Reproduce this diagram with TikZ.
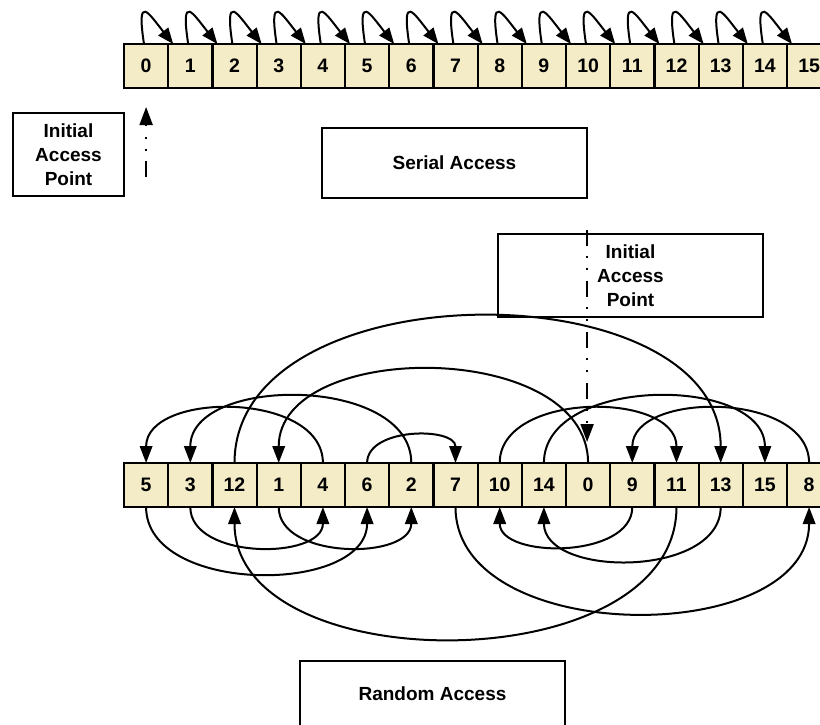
\documentclass[tikz,border=0pt]{standalone}
\usepackage{fontspec}
\setmainfont{Liberation Sans}
\usetikzlibrary{arrows.meta}
\definecolor{cellfill}{RGB}{244,235,199}
\begin{document}
\begin{tikzpicture}[x=1pt,y=-1pt,
  cell/.style={draw, line width=2.2pt, fill=cellfill, minimum width=44.2pt,
    minimum height=44pt, inner sep=0pt, outer sep=0pt,
    font=\fontsize{19.5}{22}\selectfont\bfseries},
  labelbox/.style={draw, line width=2.1pt, inner sep=0pt, outer sep=0pt,
    align=center, font=\fontsize{19}{24}\selectfont\bfseries},
  link/.style={line width=2pt, -{Triangle[length=17pt,width=12.5pt]}},
  hop/.style={line width=2pt, -{Triangle[length=16pt,width=12.5pt]}},
  pointer/.style={line width=2pt,
    dash pattern=on 16pt off 10pt on 2pt off 10pt on 2pt off 11pt,
    -{Triangle[length=18pt,width=13pt]}},
]
\useasboundingbox (0,0) rectangle (820,725);

% serial memory row
\foreach \i in {0,...,15}
  \node[cell] (s\i) at (146.1+44.2*\i, 66) {\i};

% random memory row, nodes named by stored value
\foreach \v [count=\j from 0] in {5,3,12,1,4,6,2,7,10,14,0,9,11,13,15,8}
  \node[cell] (r\v) at (146.1+44.2*\j, 485) {\v};

% serial hops i -> i+1
\foreach \i [evaluate=\i as \n using int(\i+1)] in {0,...,14}
  \draw[hop] ([xshift=20pt]s\i.north west) .. controls +(-8,-52) and +(-24,-30)
    .. ([xshift=5pt]s\n.north west);

% random hops above the row
\draw[link] (r0.north)  .. controls +(0,-124) and +(0,-124) .. (r1.north);
\draw[link] (r2.north)  .. controls +(0,-88)  and +(0,-88)  .. (r3.north);
\draw[link] (r4.north)  .. controls +(0,-72)  and +(0,-72)  .. (r5.north);
\draw[link] (r6.north)  .. controls +(0,-36)  and +(0,-36)  .. (r7.north);
\draw[link] (r8.north)  .. controls +(0,-72)  and +(0,-72)  .. (r9.north);
\draw[link] (r10.north) .. controls +(0,-72)  and +(0,-72)  .. (r11.north);
\draw[link] (r12.north) .. controls +(0,-195) and +(0,-195) .. (r13.north);
\draw[link] (r14.north) .. controls +(0,-88)  and +(0,-88)  .. (r15.north);

% random hops below the row
\draw[link] (r1.south)  .. controls +(0,53)  and +(0,53)  .. (r2.south);
\draw[link] (r3.south)  .. controls +(0,53)  and +(0,53)  .. (r4.south);
\draw[link] (r5.south)  .. controls +(0,88)  and +(0,88)  .. (r6.south);
\draw[link] (r7.south)  .. controls +(0,141) and +(0,141) .. (r8.south);
\draw[link] (r9.south)  .. controls +(0,52)  and +(0,52)  .. (r10.south);
\draw[link] (r11.south) .. controls +(0,175) and +(0,175) .. (r12.south);
\draw[link] (r13.south) .. controls +(0,71)  and +(0,71)  .. (r14.south);

% captions
\node[labelbox, minimum width=111pt, minimum height=83pt] (iapS) at (68.5,154.5) {Initial\\Access\\Point};
\node[labelbox, minimum width=265pt, minimum height=70pt] (serial) at (454.5,163) {Serial Access};
\node[labelbox, minimum width=265pt, minimum height=83pt] (iapR) at (630.5,275.5) {Initial\\Access\\Point};
\node[labelbox, minimum width=265pt, minimum height=66pt] (random) at (432.5,694) {Random Access};

% entry pointers
\coordinate (pS) at ([yshift=-89pt]s0.south);
\draw[pointer, shorten >=19pt] (pS) -- (s0.south);
\coordinate (pR) at ([xshift=-1pt,yshift=233pt]r0.north);
\draw[pointer, shorten >=21pt] (pR) -- (pR |- r0.north);
\end{tikzpicture}
\end{document}
